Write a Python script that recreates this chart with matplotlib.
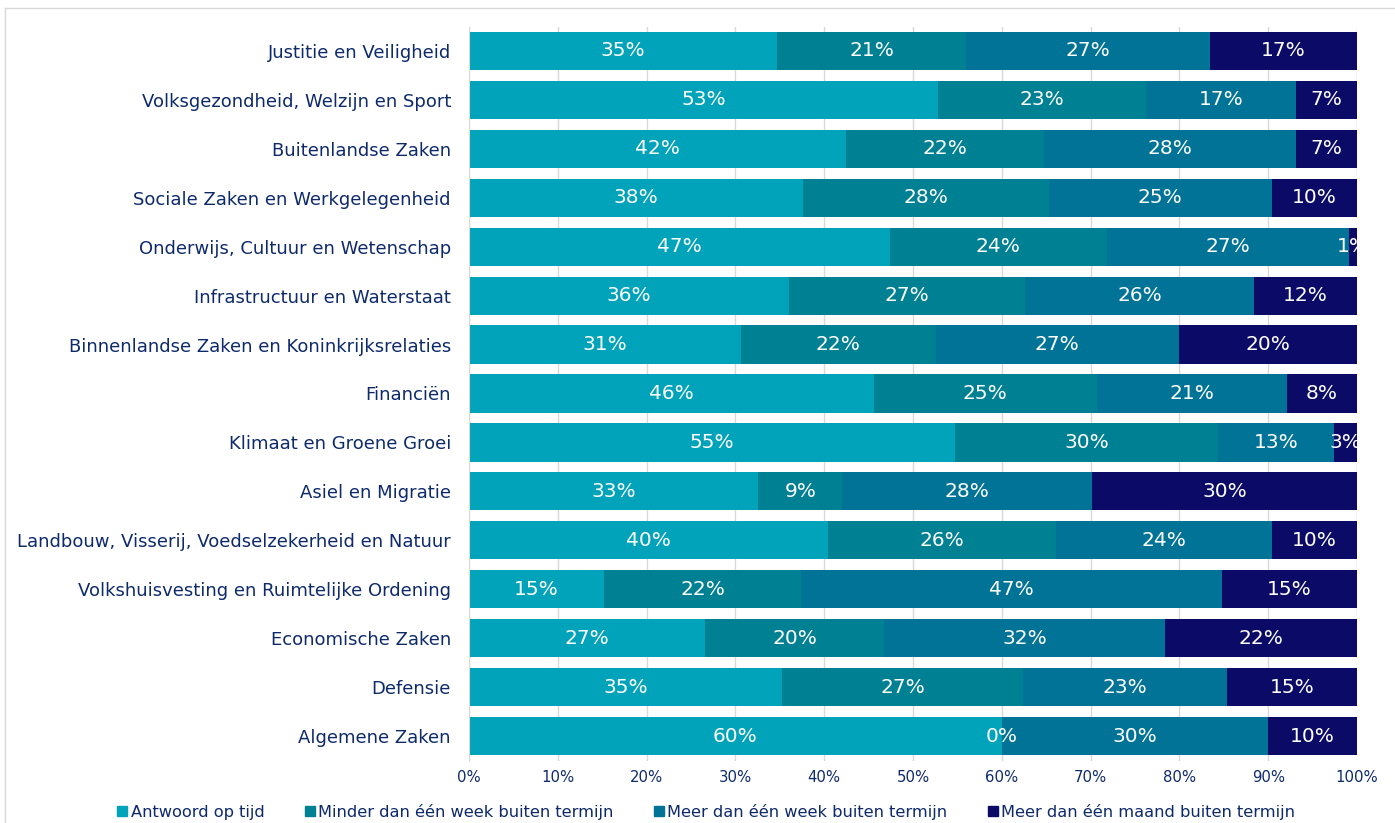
import matplotlib
matplotlib.use('Agg')
import matplotlib.pyplot as plt
from matplotlib.lines import Line2D
import numpy as np

# ministeries, van boven naar beneden
categories = [
    'Justitie en Veiligheid',
    'Volksgezondheid, Welzijn en Sport',
    'Buitenlandse Zaken',
    'Sociale Zaken en Werkgelegenheid',
    'Onderwijs, Cultuur en Wetenschap',
    'Infrastructuur en Waterstaat',
    'Binnenlandse Zaken en Koninkrijksrelaties',
    'Financiën',
    'Klimaat en Groene Groei',
    'Asiel en Migratie',
    'Landbouw, Visserij, Voedselzekerheid en Natuur',
    'Volkshuisvesting en Ruimtelijke Ordening',
    'Economische Zaken',
    'Defensie',
    'Algemene Zaken',
]

op_tijd = [34.7, 52.8, 42.4, 37.6, 47.4, 36.0, 30.6, 45.6, 54.7, 32.6, 40.4, 15.2, 26.6, 35.3, 60.0]
minder_week = [21.3, 23.4, 22.3, 27.7, 24.4, 26.6, 22.0, 25.1, 29.7, 9.4, 25.7, 22.2, 20.1, 27.1, 0.0]
meer_week = [27.4, 16.9, 28.4, 25.1, 27.3, 25.8, 27.3, 21.4, 13.0, 28.2, 24.3, 47.4, 31.7, 23.0, 30.0]
meer_maand = [16.6, 6.9, 6.9, 9.6, 0.9, 11.6, 20.1, 7.9, 2.6, 29.8, 9.6, 15.2, 21.6, 14.6, 10.0]

series = ['Antwoord op tijd', 'Minder dan één week buiten termijn',
          'Meer dan één week buiten termijn', 'Meer dan één maand buiten termijn']
colors = ['#00A3BA', '#008093', '#007397', '#0B0B67']
navy = '#0E2A6B'

data = [op_tijd, minder_week, meer_week, meer_maand]

fig = plt.figure(figsize=(13.95, 8.23), dpi=100)
ax = fig.add_axes([469/1395, 62.5/823, 888/1395, 734/823])

y = np.arange(len(categories))
left = np.zeros(len(categories))
for vals, col, name in zip(data, colors, series):
    vals = np.array(vals)
    ax.barh(y, vals, left=left, height=0.78, color=col, label=name, zorder=2)
    for yi, l, v in zip(y, left, vals):
        t = ax.text(l + v / 2, yi, f'{v:.0f}%', ha='center', va='center',
                    color='white', fontsize=14.5, zorder=3)
        t.set_clip_on(True)
    left += vals

ax.set_xlim(0, 100)
ax.set_ylim(len(categories) - 0.5, -0.5)
ax.set_yticks(y)
ax.set_yticklabels(categories, fontsize=13, color=navy)
ax.set_xticks(np.arange(0, 101, 10))
ax.set_xticklabels([f'{v}%' for v in range(0, 101, 10)], fontsize=10.7, color=navy)
ax.tick_params(axis='y', length=0, pad=13)
ax.tick_params(axis='x', length=0, pad=7)
ax.grid(axis='x', color='#D9D9D9', linewidth=1, zorder=0)
ax.set_axisbelow(True)
for s in ['top', 'right', 'bottom']:
    ax.spines[s].set_visible(False)
ax.spines['left'].set_color('#D9D9D9')

handles = [Line2D([0], [0], marker='s', linestyle='', markersize=7,
                  markerfacecolor=c, markeredgecolor=c) for c in colors]
fig.legend(handles, series, loc='center', bbox_to_anchor=(0.505, 11/823),
           ncol=4, frameon=False, fontsize=11.7, labelcolor=navy,
           handletextpad=0.0, columnspacing=2.3, handlelength=1.0)

# rand van de figuur
fig.add_artist(Line2D([5/1395, 5/1395], [0, 1 - 8/823], transform=fig.transFigure,
                      color='#D9D9D9', linewidth=1))
fig.add_artist(Line2D([5/1395, 1], [1 - 8/823, 1 - 8/823], transform=fig.transFigure,
                      color='#D9D9D9', linewidth=1))

fig.savefig('out.png', dpi=100, facecolor='white')
